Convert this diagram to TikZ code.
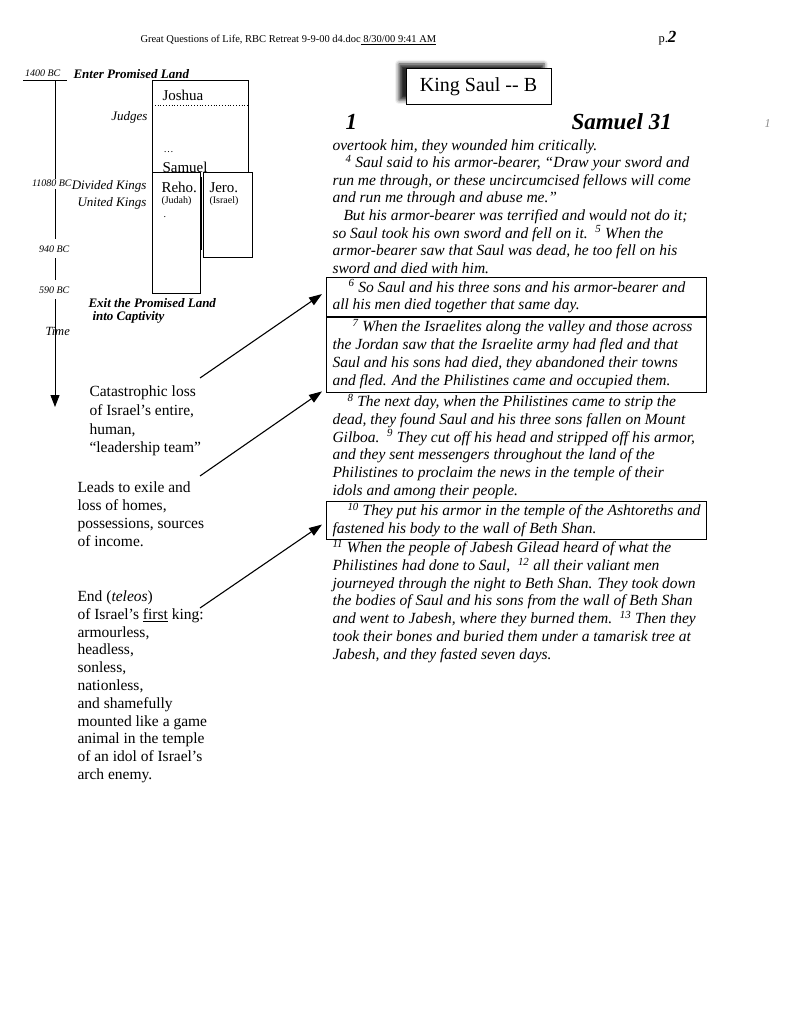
\documentclass[tikz,border=0pt]{standalone}
\usepackage{fontspec}
\setmainfont{Liberation Serif}
\usetikzlibrary{arrows.meta,shadows.blur}

\newcommand\versenum[1]{\textsuperscript{#1}}

\begin{document}
\begin{tikzpicture}[x=1pt,y=-1pt,line width=1pt,
  verse/.style={anchor=base west, align=left, inner sep=0pt, font=\fontsize{15.5}{17.8}\selectfont\itshape},
  note/.style={anchor=base west, align=left, inner sep=0pt, font=\fontsize{15.5}{17.8}\selectfont},
  era/.style={anchor=base west, inner sep=1.5pt, fill=white, font=\fontsize{10}{12}\selectfont\itshape},
  period/.style={anchor=base east, inner sep=0pt, font=\fontsize{13}{15}\selectfont\itshape},
  landmark/.style={anchor=base west, inner sep=0pt, font=\fontsize{13}{15}\selectfont\bfseries\itshape},
  king/.style={anchor=base west, inner sep=0pt, font=\fontsize{15}{17}\selectfont},
  tribe/.style={anchor=base west, inner sep=0pt, font=\fontsize{10}{12}\selectfont},
  versebox/.style={draw, anchor=north west, inner sep=0pt, line width=1.1pt},
  pointer/.style={line width=1.1pt, -{Triangle[length=13pt,width=9pt]}}]
\useasboundingbox (0,0) rectangle (791,1024);

% page header
\node[anchor=base west, inner sep=0pt, font=\fontsize{10.5}{12}\selectfont] (header) at (140,43)
  {Great Questions of Life, RBC Retreat 9-9-00 d4.doc\underline{\ 8/30/00 9:41 AM}};
\node[anchor=base west, inner sep=0pt, font=\fontsize{12.5}{14}\selectfont] (page) at (658,43)
  {p.{\fontsize{17}{17}\selectfont\bfseries\itshape 2}};

% time line
\coordinate (tickTop) at (55,81);
\coordinate (timeEnd) at (55,407);
\draw (23,81) -- (67,81);
\draw[-{Triangle[length=12pt,width=9pt]}] (tickTop) -- (timeEnd);
\node[era, fill=none] (bc1400) at (23,77) {1400 BC};
\node[era] (bc1080) at (30,187) {11080 BC};
\node[era, inner ysep=6pt] (bc940) at (37,252) {940 BC};
\node[era, inner ysep=6pt] (bc590) at (37,293) {590 BC};
\node[era, fill=none, inner sep=0pt, font=\fontsize{12.5}{14}\selectfont\itshape] (time) at (45,335) {Time};
\node[landmark] (enter) at (73,79) {Enter Promised Land};
\node[landmark, align=left, font=\fontsize{13}{13.5}\selectfont\bfseries\itshape] (exit) at (88,320.5)
  {Exit the Promised Land\\ \hspace*{4pt}into Captivity};
\node[period] (judges) at (148,121) {Judges};
\node[period] (divided) at (147,190) {Divided Kings};
\node[period] (united) at (147,207) {United Kings};

% reign boxes
\draw (152,173) -- (152,81) -- (248,81) -- (248,173);
\draw[line width=0.8pt, dotted] (152,105) -- (248,105);
\draw (152,173) rectangle (200,293);
\draw (203,173) rectangle (252,257);
\draw[line width=0.7pt] (201.5,177) -- (201.5,250);
\node[king] (joshua) at (162,101) {Joshua};
\node[king, font=\fontsize{10}{12}\selectfont] (dots) at (163,153) {\dots};
\node[king] (samuel) at (162,173) {Samuel};
\node[king] (reho) at (161,193) {Reho.};
\node[tribe] (judah) at (161,204) {(Judah)};
\node[tribe] (dot) at (163,218) {.};
\node[king] (jero) at (209,193) {Jero.};
\node[tribe] (israel) at (209,204) {(Israel)};

% title
\node[draw, fill=white, line width=1pt, minimum width=145, minimum height=36,
  font=\fontsize{20}{22}\selectfont,
  blur shadow={shadow xshift=-7pt, shadow yshift=5pt, shadow blur radius=4pt, shadow opacity=85}]
  (title) at (478.5,87) {King Saul {-}{-} B};
\node[anchor=base west, inner sep=0pt, font=\fontsize{23}{25}\selectfont\bfseries\itshape] (book) at (345,130) {1};
\node[anchor=base west, inner sep=0pt, font=\fontsize{23}{25}\selectfont\bfseries\itshape] (chapter) at (571,130) {Samuel 31};
\node[anchor=base west, inner sep=0pt, text=black!45, font=\fontsize{12}{14}\selectfont\itshape] (margin) at (764,128) {1};

% verses (a multi-line node sits on the baseline of its last line)
\node[verse, font=\fontsize{15.5}{17.6}\selectfont\itshape] (versesA) at (332,273.2)
  {overtook him, they wounded him critically.\\
   \hspace*{13pt}\versenum{4} Saul said to his armor-bearer, “Draw your sword and\\
   run me through, or these uncircumcised fellows will come\\
   and run me through and abuse me.”\\
   \hspace*{11pt}But his armor-bearer was terrified and would not do it;\\
   so Saul took his own sword and fell on it.\ \ \versenum{5} When the\\
   armor-bearer saw that Saul was dead, he too fell on his\\
   sword and died with him.};
\node[versebox, minimum width=380, minimum height=39] (sixbox) at (326,277) {};
\node[verse, font=\fontsize{15.5}{17}\selectfont\itshape] (versesB) at (332,309)
  {\hspace*{16pt}\versenum{6} So Saul and his three sons and his armor-bearer and\\
   all his men died together that same day.};
\node[versebox, minimum width=380, minimum height=75, line width=1.4pt] (sevenbox) at (326,317) {};
\node[verse, font=\fontsize{15.5}{18}\selectfont\itshape] (versesC) at (332,385.5)
  {\hspace*{20pt}\versenum{7} When the Israelites along the valley and those across\\
   the Jordan saw that the Israelite army had fled and that\\
   Saul and his sons had died, they abandoned their towns\\
   and fled. And the Philistines came and occupied them.};
\node[verse] (versesD) at (332,495.5)
  {\hspace*{15pt}\versenum{8} The next day, when the Philistines came to strip the\\
   dead, they found Saul and his three sons fallen on Mount\\
   Gilboa.\ \ \versenum{9} They cut off his head and stripped off his armor,\\
   and they sent messengers throughout the land of the\\
   Philistines to proclaim the news in the temple of their\\
   idols and among their people.};
\node[versebox, minimum width=380, minimum height=38] (tenbox) at (326,501) {};
\node[verse, font=\fontsize{15.5}{18}\selectfont\itshape] (versesE) at (332,533.5)
  {\hspace*{15pt}\versenum{10} They put his armor in the temple of the Ashtoreths and\\
   fastened his body to the wall of Beth Shan.};
\node[verse] (versesF) at (332,659.3)
  {\versenum{11} When the people of Jabesh Gilead heard of what the\\
   Philistines had done to Saul,\ \ \versenum{12} all their valiant men\\
   journeyed through the night to Beth Shan. They took down\\
   the bodies of Saul and his sons from the wall of Beth Shan\\
   and went to Jabesh, where they burned them.\ \ \versenum{13} Then they\\
   took their bones and buried them under a tamarisk tree at\\
   Jabesh, and they fasted seven days.};

% comments on the left
\node[note, font=\fontsize{15.5}{18.8}\selectfont] (loss) at (89,452.9)
  {Catastrophic loss\\ of Israel’s entire,\\ human,\\ “leadership team”};
\node[note, font=\fontsize{15.5}{17.9}\selectfont] (exile) at (77,546.2)
  {Leads to exile and\\ loss of homes,\\ possessions, sources\\ of income.};
\node[note] (teleos) at (77,779.5)
  {End (\textit{teleos})\\ of Israel’s \underline{first} king:\\ armourless,\\ headless,\\ sonless,\\
   nationless,\\ and shamefully\\ mounted like a game\\ animal in the temple\\ of an idol of Israel’s\\ arch enemy.};

\coordinate (lossTail) at (200,378);
\coordinate (exileTail) at (200,476);
\coordinate (endTail) at (200,608);
\draw[pointer] (lossTail) -- ([xshift=-4pt,yshift=3pt]sixbox.west);
\draw[pointer] (exileTail) -- ([xshift=-4pt,yshift=2pt]sevenbox.south west);
\draw[pointer] (endTail) -- ([xshift=-4pt,yshift=-4pt]tenbox.west);
\end{tikzpicture}
\end{document}
